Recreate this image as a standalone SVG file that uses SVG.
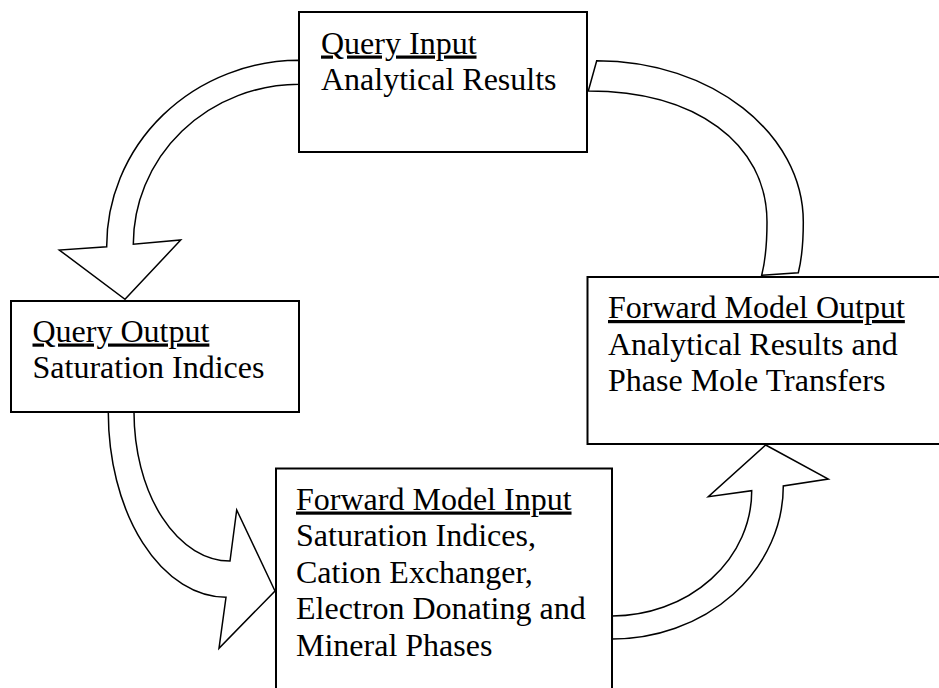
<svg xmlns="http://www.w3.org/2000/svg" width="939" height="688" viewBox="0 0 939 688">
<style>
.bx{fill:#fff;stroke:#000;stroke-width:2}
.ar{fill:#fff;stroke:#000;stroke-width:1.5;stroke-linejoin:miter}
.t{font-family:"Liberation Serif","Times New Roman",serif;font-size:32px;fill:#000}
.u{text-decoration:underline}
</style>
<rect width="939" height="688" fill="#fff"/>
<g id="connectors">
<path class="ar" d="M299,60.3 A193,186 0 0 0 106.7,246.7 L59.3,250 L125,299.3 L180.7,240 L133.3,244.3 A166,160 0 0 1 299,84.3 Z"/>
<path class="ar" d="M108.3,412.3 A118,185 0 0 0 226,597.3 L219,648.3 L275,591 L236.7,510 L230,561 A96,149 0 0 1 134,412.3 Z"/>
<path class="ar" d="M612.3,639 A171,153 0 0 0 783.3,486 L828.3,479 L765.7,445 L708.3,496.7 L751.7,490.7 A140,125 0 0 1 612.3,616 Z"/>
<path class="ar" d="M596.7,60.7 C710.8,60.7 803.3,132.9 803.3,222 C803.3,245 801,262 798.3,272.7 L761.7,275.3 C765,262 767,245 767,222 C767,143 695,91 588.3,91 Z"/>
</g>
<g id="query-input">
<rect class="bx" x="299" y="12" width="288" height="140"/>
<text class="t" x="321" y="53.5"><tspan class="u">Query Input</tspan></text>
<text class="t" x="321" y="90">Analytical Results</text>
</g>
<g id="query-output">
<rect class="bx" x="11" y="301" width="288" height="111"/>
<text class="t" x="32.5" y="341.5"><tspan class="u">Query Output</tspan></text>
<text class="t" x="32.5" y="378">Saturation Indices</text>
</g>
<g id="forward-model-input">
<rect class="bx" x="276" y="468.5" width="336" height="240"/>
<text class="t" x="296" y="509.5"><tspan class="u">Forward Model Input</tspan></text>
<text class="t" x="296" y="546">Saturation Indices,</text>
<text class="t" x="296" y="582.5">Cation Exchanger,</text>
<text class="t" x="296" y="619">Electron Donating and</text>
<text class="t" x="296" y="655.5">Mineral Phases</text>
</g>
<g id="forward-model-output">
<rect class="bx" x="587.5" y="277" width="360" height="167"/>
<text class="t" x="608" y="318"><tspan class="u">Forward Model Output</tspan></text>
<text class="t" x="608" y="354.5">Analytical Results and</text>
<text class="t" x="608" y="391">Phase Mole Transfers</text>
</g>
</svg>
